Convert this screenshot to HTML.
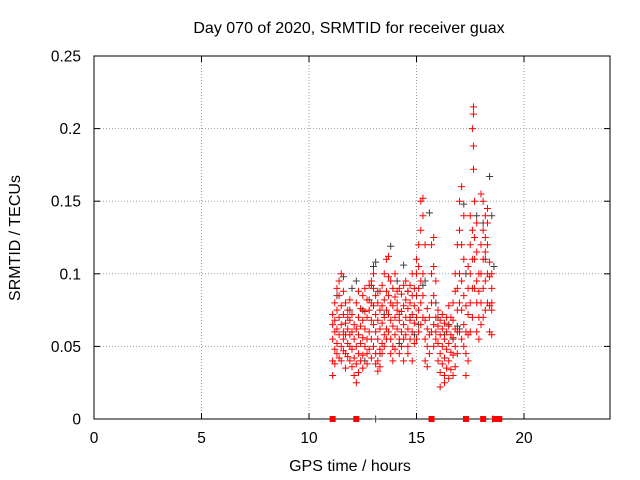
<!DOCTYPE html>
<html><head><meta charset="utf-8"><style>
body{margin:0;background:#fff}
svg{display:block;font-family:"Liberation Sans",sans-serif}
</style></head><body>
<svg id="chart" width="640" height="480" viewBox="0 0 640 480">
<rect width="640" height="480" fill="#fff"/>
<text x="349" y="33" font-size="16" text-anchor="middle">Day 070 of 2020, SRMTID for receiver guax</text>
<text transform="translate(20,238) rotate(-90)" font-size="16" text-anchor="middle">SRMTID / TECUs</text>
<text x="350" y="471" font-size="16" text-anchor="middle">GPS time / hours</text>
<g id="grid"></g>
<g id="axes"></g>
<g id="marks"></g>
</svg>
<script>
const xTicks=[0,5,10,15,20];
const yTicks=[0,0.05,0.1,0.15,0.2,0.25];
const yTickLabels=["0","0.05","0.1","0.15","0.2","0.25"];
const redTimes=[11.1,11.2,11.3,11.4,11.5,11.6,11.7,11.8,11.9,12.0,12.1,12.2,12.3,12.4,12.5,12.6,12.7,12.8,12.9,13.0,13.1,13.2,13.3,13.4,13.5,13.6,13.7,13.8,13.9,14.0,14.1,14.2,14.3,14.4,14.5,14.6,14.7,14.8,14.9,15.0,15.1,15.2,15.3,15.4,15.5,15.6,15.7,15.8,15.9,16.0,16.1,16.2,16.3,16.4,16.5,16.6,16.7,16.8,16.9,17.0,17.1,17.2,17.3,17.4,17.5,17.6,17.65,17.7,17.8,17.9,18.0,18.1,18.2,18.3,18.4,18.5];
const redValues=[
[.040,.055,.065,.030,.072],[.048,.060,.080,.038,.068],[.052,.090,.045,.075,.062],[.058,.085,.042,.070,.095],[.050,.078,.065,.100,.040],
[.060,.072,.088,.055,.047],[.045,.066,.080,.058,.035],[.052,.070,.062,.075,.043],[.040,.058,.068,.082,.050],[.036,.048,.060,.072],
[.030,.042,.055,.065],[.025,.038,.050,.062,.080],[.032,.045,.058,.070,.088],[.040,.052,.064,.076],[.044,.056,.068,.085,.035],
[.050,.062,.074,.090],[.038,.055,.070,.082,.045],[.060,.075,.092,.048],[.055,.068,.080,.095,.042],[.050,.065,.078,.090,.100],
[.045,.060,.072,.085,.038],[.040,.055,.068,.080,.033],[.048,.062,.075,.088,.036],[.052,.066,.078,.092,.045],[.058,.070,.082,.100,.050],
[.062,.075,.088,.110,.055],[.060,.072,.085,.098,.112],[.055,.068,.080,.095,.045],[.050,.064,.078,.090,.040],[.058,.070,.084,.100,.048],
[.062,.075,.088,.080],[.055,.068,.090,.072,.045],[.060,.074,.086,.050],[.065,.078,.092,.055,.040],[.058,.070,.082,.095],
[.050,.062,.076,.088,.045],[.055,.068,.080,.092],[.060,.072,.085,.040,.100],[.066,.078,.090,.052],[.055,.070,.085,.100,.110],
[.060,.075,.090,.105,.120],[.065,.080,.095,.130,.150],[.070,.085,.100,.140,.152],[.040,.055,.068,.120],[.036,.050,.062,.076],
[.045,.058,.070],[.060,.080,.100,.120],[.065,.085,.105,.125,.050],[.055,.070,.095,.060],[.040,.052,.064,.075],
[.032,.045,.058,.068,.022],[.038,.050,.062,.072],[.030,.042,.055,.066,.025],[.035,.048,.060,.070],[.040,.052,.064,.078,.028],
[.034,.046,.058,.070],[.030,.044,.056,.068,.080],[.036,.050,.062,.088,.100],[.045,.060,.075,.090,.120],[.060,.080,.100,.130,.150],
[.055,.075,.095,.120,.160],[.050,.065,.085,.110,.140],[.030,.045,.060,.078],[.040,.058,.072,.090,.105],[.060,.080,.100,.120,.140],
[.070,.090,.110,.130,.200],[.172,.215,.210,.188],[.090,.110,.125,.150],[.060,.080,.095,.115,.135],[.055,.070,.088,.100],
[.065,.080,.100,.120,.155],[.070,.090,.110,.130,.150],[.075,.095,.115,.140,.125],[.080,.100,.120,.135,.145],[.060,.078,.098,.108],
[.058,.075,.090,.100,.080]];
const grayTimes=[11.3,11.6,12.0,12.2,12.5,12.9,13.0,13.1,13.2,13.5,13.8,14.1,14.4,14.7,14.9,15.1,15.4,15.6,15.9,16.3,16.5,16.9,17.2,17.3,17.8,18.1,18.4,18.5,18.6,12.6,13.3,14.2,16.0,17.0,11.9,12.8,14.6,15.3,16.7,18.2];
const grayValues=[.085,.098,.090,.095,.075,.092,.105,.108,.088,.072,.119,.095,.106,.070,.058,.065,.095,.142,.080,.058,.065,.064,.148,.100,.140,.135,.167,.140,.105,.040,.045,.052,.070,.062,.075,.082,.088,.092,.055,.110];
const redZeroTimes=[11.1,12.2,15.7,17.3,18.1,18.65,18.75,18.85];
const grayZeroTimes=[13.1,18.55];

const L=94,R=610,T=56,B=419;
const xS=t=>L+(t/24)*(R-L);
const yS=v=>B-(v/0.25)*(B-T);
const NS="http://www.w3.org/2000/svg";
function mk(tag,attrs,parent){const e=document.createElementNS(NS,tag);for(const k in attrs)e.setAttribute(k,attrs[k]);parent.appendChild(e);return e;}
const grid=document.getElementById('grid'),axes=document.getElementById('axes'),marks=document.getElementById('marks');
xTicks.forEach(t=>{
  const x=xS(t);
  if(t>0){const g=mk('line',{x1:x,x2:x,y1:T,y2:B,stroke:'#a0a0a0','stroke-dasharray':'1,2'},grid);
  
  }
  mk('line',{x1:x,x2:x,y1:B,y2:B-6,stroke:'#000'},axes);
  mk('line',{x1:x,x2:x,y1:T,y2:T+6,stroke:'#000'},axes);
  const lb=mk('text',{x:x,y:B+24,'font-size':15.5,'text-anchor':'middle'},axes);
  lb.textContent=String(t);
  
  
});
yTicks.forEach((v,i)=>{
  const y=yS(v);
  if(v>0&&v<0.25){const g=mk('line',{x1:L,x2:R,y1:y,y2:y,stroke:'#a0a0a0','stroke-dasharray':'1,2'},grid);
  
  }
  mk('line',{x1:L,x2:L+6,y1:y,y2:y,stroke:'#000'},axes);
  mk('line',{x1:R,x2:R-6,y1:y,y2:y,stroke:'#000'},axes);
  const lb=mk('text',{x:L-13,y:y+5.5,'font-size':15.5,'text-anchor':'end'},axes);
  lb.textContent=yTickLabels[i];
  
  
});
mk('rect',{x:L,y:T,width:R-L,height:B-T,fill:'none',stroke:'#000'},axes);
function plus(t,v,color){
  const x=xS(t),y=yS(v);
  const p=mk('path',{d:`M${x-3.5},${y}h7M${x},${y-3.5}v7`,stroke:color,'stroke-width':1,fill:'none'},marks);
  
  
}
grayTimes.forEach((t,i)=>plus(t,grayValues[i],'#404040'));
redTimes.forEach((t,i)=>redValues[i].forEach(v=>plus(t,v,'#ff0000')));
grayZeroTimes.forEach(t=>plus(t,0,'#404040'));
redZeroTimes.forEach(t=>{
  const r=mk('rect',{x:xS(t)-3,y:B-3,width:6,height:6,fill:'#ff0000'},marks);
  
  
});
</script>
</body></html>
